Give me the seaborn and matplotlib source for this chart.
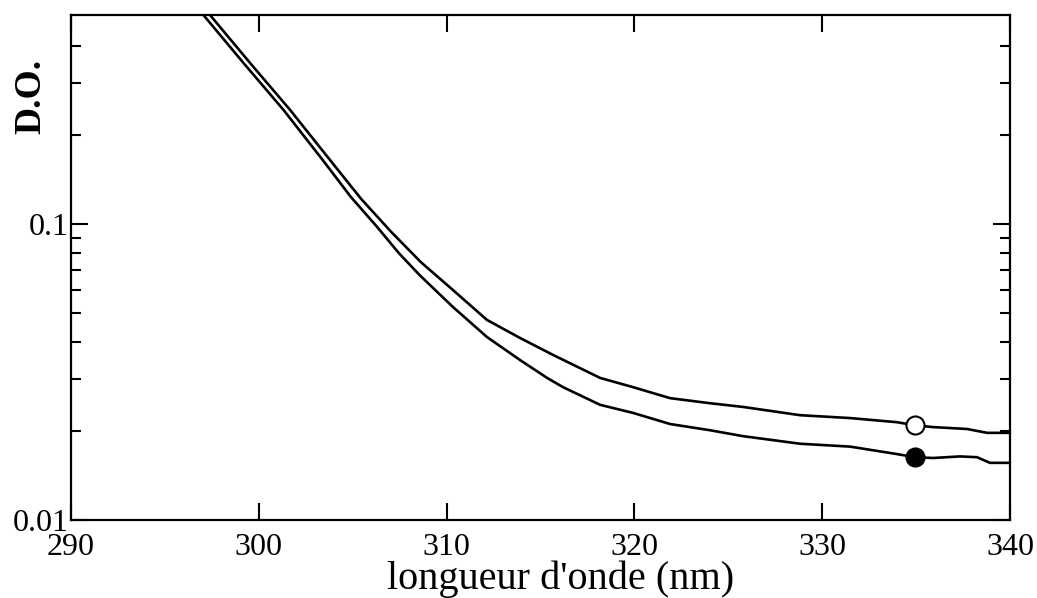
import numpy as np
import pandas as pd
import matplotlib
matplotlib.use("Agg")
import matplotlib.pyplot as plt
import seaborn as sns
from matplotlib.ticker import FixedLocator, NullFormatter, FixedFormatter

# courbe du haut (cercle ouvert)
wl_haut = [296.85, 297.40, 299.53, 301.66, 303.79, 305.45, 307.05, 308.62, 310.34,
           312.15, 313.91, 315.67, 317.10, 318.17, 319.93, 321.90, 324.03, 325.78,
           328.82, 331.48, 333.98, 334.94, 335.90, 337.71, 338.78, 340.0]
do_haut = [0.56, 0.508, 0.350, 0.243, 0.1645, 0.1215, 0.0940, 0.0744, 0.0598,
           0.0474, 0.0412, 0.0361, 0.0326, 0.0302, 0.0281, 0.0258, 0.0248, 0.0241,
           0.0226, 0.0221, 0.0214, 0.0209, 0.0206, 0.0203, 0.0197, 0.0197]

# courbe du bas (cercle plein)
wl_bas = [296.50, 297.05, 299.18, 301.31, 303.40, 304.90, 306.30, 307.45, 308.55,
          310.34, 312.15, 313.91, 315.35, 316.20, 318.17, 319.93, 321.90, 324.03,
          325.78, 328.82, 331.48, 333.98, 334.94, 335.90, 337.34, 338.24, 338.93, 340.0]
do_bas = [0.56, 0.508, 0.350, 0.243, 0.1645, 0.1234, 0.0977, 0.0798, 0.0673,
          0.0524, 0.0415, 0.0347, 0.0302, 0.0281, 0.0245, 0.0230, 0.0211, 0.0201,
          0.0192, 0.0181, 0.0177, 0.0167, 0.0163, 0.0162, 0.0164, 0.0163, 0.0156, 0.0156]

marq_wl = [334.94, 334.94]
marq_do = [0.0209, 0.0163]
marq_fill = ["white", "black"]

sns.set_style("ticks")
plt.rcParams["font.family"] = ["Liberation Serif", "DejaVu Serif"]
plt.rcParams["text.color"] = "black"
plt.rcParams["axes.labelcolor"] = "black"
plt.rcParams["xtick.color"] = "black"
plt.rcParams["ytick.color"] = "black"

fig = plt.figure(figsize=(10.37, 5.98), dpi=100)
ax = fig.add_axes([0.0685, 0.1304, 0.9055, 0.8445])

sns.lineplot(x=wl_haut, y=do_haut, color="black", linewidth=1.9, sort=False, ax=ax)
sns.lineplot(x=wl_bas, y=do_bas, color="black", linewidth=1.9, sort=False, ax=ax)
for xw, yv, fc in zip(marq_wl, marq_do, marq_fill):
    ax.plot([xw], [yv], marker="o", ms=13, mfc=fc, mec="black", mew=1.5,
            linestyle="none", zorder=5)

ax.set_yscale("log")
ax.set_xlim(290, 340)
ax.set_ylim(0.01, 0.508)

ax.xaxis.set_major_locator(FixedLocator([290, 300, 310, 320, 330, 340]))
ax.yaxis.set_major_locator(FixedLocator([0.01, 0.1]))
ax.yaxis.set_major_formatter(FixedFormatter(["0.01", "0.1"]))
ax.yaxis.set_minor_locator(FixedLocator([0.02, 0.03, 0.04, 0.05, 0.06, 0.07, 0.08,
                                         0.09, 0.2, 0.3, 0.4]))
ax.yaxis.set_minor_formatter(NullFormatter())

ax.tick_params(axis="both", which="major", direction="in", length=12, width=1.5,
               top=True, right=True, labelsize=23, color="black", labelcolor="black")
ax.tick_params(axis="y", which="minor", direction="in", length=7, width=1.5,
               left=True, right=True, color="black")
ax.tick_params(axis="x", which="major", pad=9)
ax.tick_params(axis="y", which="major", pad=2)
for s in ax.spines.values():
    s.set_linewidth(1.6)
    s.set_color("black")

ax.set_xlabel("longueur d'onde (nm)", fontsize=29, color="black")
ax.xaxis.set_label_coords(0.521, -0.080)
ax.set_ylabel("D.O.", fontsize=27, fontweight="bold", color="black")
ax.yaxis.set_label_coords(-0.024, 0.838)

fig.savefig("out.png", dpi=100)
